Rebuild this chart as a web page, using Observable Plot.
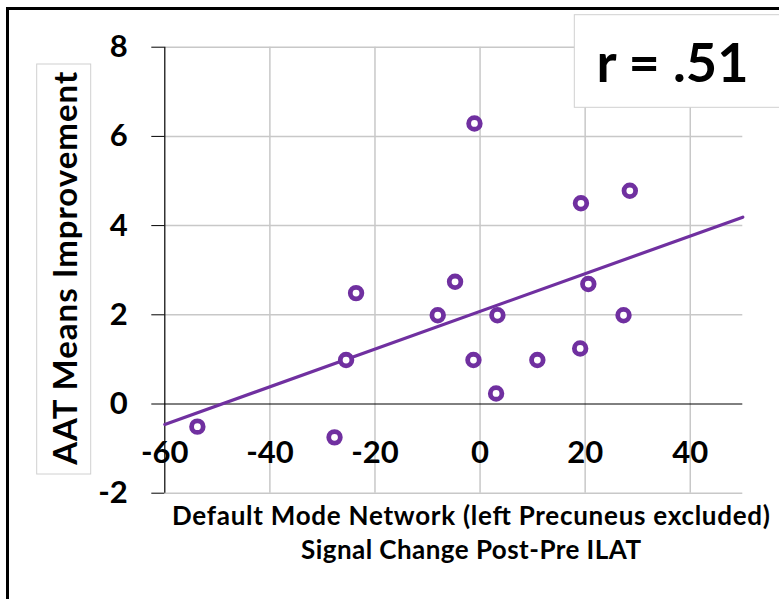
<!DOCTYPE html>
<html>
<head>
<meta charset="utf-8">
<script src="https://cdn.jsdelivr.net/npm/d3@7"></script>
<script src="https://cdn.jsdelivr.net/npm/@observablehq/plot@0.6"></script>
<style>
  html, body { margin: 0; padding: 0; background: #fff; }
  #chart svg { display: block; }
</style>
</head>
<body>
<div id="chart"></div>
<script>
// ---- data ----
const signalChange = [-1.07, 19.2, 28.5, -4.76, 20.6, -8.06, 3.3, 27.3, -1.26, 10.9, 19.05, 3.05, -25.5, -53.8, -27.7, -23.6];
const aatImprovement = [6.29, 4.50, 4.78, 2.74, 2.69, 1.99, 1.99, 1.99, 0.985, 0.985, 1.245, 0.237, 0.985, -0.508, -0.748, 2.486];
const xTicks = [-60, -40, -20, 0, 20, 40];
const yTicks = [-2, 0, 2, 4, 6, 8];
const xDomain = [-60, 50];
const yDomain = [-2, 8];
const xTitleLines = ["Default Mode Network (left Precuneus excluded)", "Signal Change Post-Pre ILAT"];
const yTitle = "AAT Means Improvement";
const rLabel = "r = .51";

const purple = "#7030A0";
const gridColor = "#c8c8c8";
const font = "Lato, 'Open Sans', sans-serif";

const points = signalChange.map((x, i) => ({x, y: aatImprovement[i]}));

// least-squares trend line over the full axis range
const mx = d3.mean(points, d => d.x), my = d3.mean(points, d => d.y);
const slope = d3.sum(points, d => (d.x - mx) * (d.y - my)) / d3.sum(points, d => (d.x - mx) ** 2);
const intercept = my - slope * mx;
const trend = xDomain.map(x => ({x, y: intercept + slope * x}));

const W = 779, H = 599;
const plot = Plot.plot({
  width: W,
  height: H,
  marginLeft: 164.3,
  marginRight: 36.7,
  marginTop: 46.7,
  marginBottom: 106.3,
  style: {fontFamily: font, background: "white", color: "black"},
  x: {domain: xDomain, axis: null},
  y: {domain: yDomain, axis: null},
  marks: [
    Plot.ruleX(xTicks.filter(d => d !== xDomain[0]), {stroke: gridColor, strokeWidth: 1.5}),
    Plot.ruleY(yTicks.filter(d => d !== 0), {stroke: gridColor, strokeWidth: 1.5}),
    Plot.ruleY([0], {stroke: "black", strokeWidth: 1}),
    Plot.ruleX([xDomain[0]], {stroke: "black", strokeWidth: 1.2}),
    Plot.axisY({ticks: yTicks, label: null, tickSize: 13, tickPadding: 24, tickFormat: d => String(d), fontSize: 31, fontWeight: "bold", stroke: "black"}),
    Plot.text(xTicks, {x: d => d, y: 0, dy: 48.7, text: d => String(d), fontSize: 31, fontWeight: "bold", fill: "black"}),
    Plot.line(trend, {x: "x", y: "y", stroke: purple, strokeWidth: 3.2}),
    Plot.dot(points, {x: "x", y: "y", r: 5.8, stroke: purple, strokeWidth: 4.8, fill: "white"})
  ]
});

document.getElementById("chart").appendChild(plot);
const svg = d3.select(plot);

// outer frame
svg.append("rect").attr("x", 7.5).attr("y", 8.5).attr("width", 900).attr("height", 900)
  .attr("fill", "none").attr("stroke", "black").attr("stroke-width", 3);

// y-axis title box
svg.append("rect").attr("x", 36.7).attr("y", 64).attr("width", 54).attr("height", 410)
  .attr("fill", "white").attr("stroke", "#d0d0d0").attr("stroke-width", 1);
svg.append("text")
  .attr("transform", "translate(76.5,268.3) rotate(-90)")
  .attr("text-anchor", "middle")
  .attr("font-family", font).attr("font-size", 33).attr("font-weight", "bold").attr("fill", "black")
  .attr("textLength", 393).attr("lengthAdjust", "spacing")
  .text(yTitle);

// r label box
svg.append("rect").attr("x", 574.3).attr("y", 14.7).attr("width", 300).attr("height", 92.6)
  .attr("fill", "white").attr("stroke", "#d0d0d0").attr("stroke-width", 1);
svg.append("text")
  .attr("x", 672.5).attr("y", 81.7).attr("text-anchor", "middle")
  .attr("font-family", font).attr("font-size", 54).attr("font-weight", "bold").attr("fill", "black")
  .text(rLabel);

// x-axis title
const baselines = [524.5, 558.5];
const widths = [598, 340];
xTitleLines.forEach((t, i) => {
  svg.append("text")
    .attr("x", 471).attr("y", baselines[i]).attr("text-anchor", "middle")
    .attr("font-family", font).attr("font-size", 26).attr("font-weight", "bold").attr("fill", "black")
    .attr("textLength", widths[i]).attr("lengthAdjust", "spacing")
    .text(t);
});
</script>
</body>
</html>
